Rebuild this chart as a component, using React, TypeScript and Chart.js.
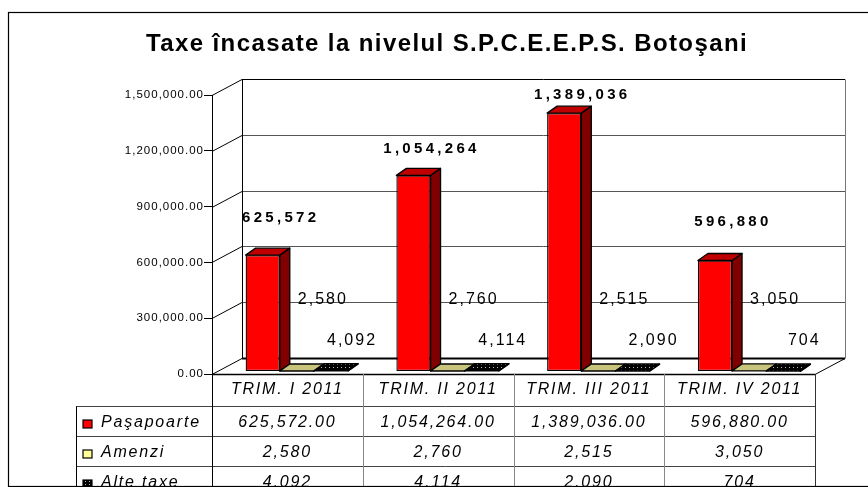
import React, { useEffect, useRef } from "react";
import { Chart, registerables } from "chart.js";

Chart.register(...registerables);

// ---------- data ----------
const TITLE = "Taxe încasate la nivelul S.P.C.E.E.P.S. Botoşani";
const categories = ["TRIM. I 2011", "TRIM. II 2011", "TRIM. III 2011", "TRIM. IV 2011"];
const seriesNames = ["Paşapoarte", "Amenzi", "Alte taxe"];
const pasapoarte = [625572, 1054264, 1389036, 596880];
const amenzi = [2580, 2760, 2515, 3050];
const alteTaxe = [4092, 4114, 2090, 704];
const yMin = 0;
const yMax = 1500000;
const yStep = 300000;
const tableDecimals = [2, 0, 0];

// ---------- style ----------
const W = 868;
const H = 487;
const FONT = '"Liberation Sans", Arial, sans-serif';
const WALL = { dx: 30, dy: -16 };
const BAR_SHIFT = { dx: 9.5, dy: -2.5 };
const BAR_DEPTH = { dx: 10, dy: -7 };
const frontColors = ["#FF0000", "#FFFF99", "#000000"];
const sideColors = ["#800000", "#99994C", "#000000"];
const topColors = ["#C00000", "#C8C47C", "#000000"];

const fmt = (v: number, d: number) =>
  v.toLocaleString("en-US", { minimumFractionDigits: d, maximumFractionDigits: d });

const al = (v: number) => Math.round(v) + 0.5;

function seg(ctx: CanvasRenderingContext2D, x1: number, y1: number, x2: number, y2: number) {
  ctx.beginPath();
  ctx.moveTo(x1, y1);
  ctx.lineTo(x2, y2);
  ctx.stroke();
}

function makeDots(ctx: CanvasRenderingContext2D) {
  const c = document.createElement("canvas");
  c.width = 4;
  c.height = 3;
  const g = c.getContext("2d")!;
  g.fillStyle = "#000";
  g.fillRect(0, 0, 4, 3);
  g.fillStyle = "#b8b8b8";
  g.fillRect(1, 1, 1, 1);
  return ctx.createPattern(c, "repeat")!;
}

export default function App() {
  const ref = useRef<HTMLCanvasElement>(null);

  useEffect(() => {
    const canvas = ref.current!;
    const c2d = canvas.getContext("2d")!;
    const dots = makeDots(c2d);
    const fills = (i: number, arr: string[]) => (i === 2 ? dots : arr[i]);

    const labelStyle = [
      { font: `bold 15px ${FONT}`, spacing: "3.3px", dx: 18, y: (b: number, t: number) => b - (b - t) * 0.86 - 54 },
      { font: `16px ${FONT}`, spacing: "2px", dx: 26, y: (b: number) => b - 71 },
      { font: `16px ${FONT}`, spacing: "2px", dx: 21, y: (b: number) => b - 30.5 },
    ];

    const excel3d = {
      id: "excel3d",
      beforeDraw(chart: any) {
        const { ctx } = chart;
        ctx.save();
        ctx.fillStyle = "#ffffff";
        ctx.fillRect(0, 0, chart.width, chart.height);
        ctx.fillStyle = "#000";
        ctx.font = `bold 24px ${FONT}`;
        ctx.letterSpacing = "1.4px";
        ctx.textAlign = "center";
        ctx.textBaseline = "alphabetic";
        ctx.fillText(TITLE, 447, 50.5);
        ctx.restore();
        ctx.letterSpacing = "1px";
      },
      beforeDatasetsDraw(chart: any) {
        const { ctx, chartArea: a } = chart;
        const ys = chart.scales.y;
        ctx.save();
        ctx.letterSpacing = "0px";
        const bl = a.left + WALL.dx;
        const br = a.right + WALL.dx;
        ys.ticks.forEach((t: any) => {
          const py = ys.getPixelForValue(t.value);
          ctx.strokeStyle = "#000";
          ctx.lineWidth = 1;
          seg(ctx, a.left, al(py), bl, al(py) + WALL.dy);
          const isTop = t.value === ys.max;
          const isZero = t.value === ys.min;
          ctx.strokeStyle = isTop || isZero ? "#000" : "#555";
          ctx.lineWidth = isZero ? 2 : 1;
          seg(ctx, bl, al(py) + WALL.dy, br, al(py) + WALL.dy);
        });
        const topY = al(ys.getPixelForValue(ys.max)) + WALL.dy;
        const botY = al(ys.getPixelForValue(ys.min)) + WALL.dy;
        ctx.strokeStyle = "#000";
        ctx.lineWidth = 1;
        seg(ctx, al(bl), topY, al(bl), botY);
        ctx.strokeStyle = "#777";
        seg(ctx, al(br), topY, al(br), botY);
        // floor front + right edge
        ctx.strokeStyle = "#000";
        ctx.lineWidth = 1.5;
        seg(ctx, a.left, al(a.bottom), a.right, al(a.bottom));
        ctx.lineWidth = 1;
        seg(ctx, a.right, al(a.bottom), br, botY);
        ctx.restore();
        ctx.save();
        ctx.translate(BAR_SHIFT.dx, BAR_SHIFT.dy);
      },
      afterDatasetsDraw(chart: any) {
        const { ctx } = chart;
        ctx.restore();
        ctx.save();
        ctx.letterSpacing = "0px";
        ctx.lineJoin = "round";
        const metas = [0, 1, 2].map((d) => chart.getDatasetMeta(d));
        for (let i = 0; i < categories.length; i++) {
          for (let d = 0; d < 3; d++) {
            const el = metas[d].data[i];
            const x0 = el.x - el.width / 2 + BAR_SHIFT.dx;
            const x1 = el.x + el.width / 2 + BAR_SHIFT.dx;
            const yt = Math.min(el.y, el.base) + BAR_SHIFT.dy;
            const yb = Math.max(el.y, el.base) + BAR_SHIFT.dy;
            ctx.strokeStyle = "#000";
            ctx.lineWidth = 1.3;
            // side face
            ctx.beginPath();
            ctx.moveTo(x1, yt);
            ctx.lineTo(x1 + BAR_DEPTH.dx, yt + BAR_DEPTH.dy);
            ctx.lineTo(x1 + BAR_DEPTH.dx, yb + BAR_DEPTH.dy);
            ctx.lineTo(x1, yb);
            ctx.closePath();
            ctx.fillStyle = fills(d, sideColors);
            ctx.fill();
            ctx.stroke();
            // top face
            ctx.beginPath();
            ctx.moveTo(x0, yt);
            ctx.lineTo(x1, yt);
            ctx.lineTo(x1 + BAR_DEPTH.dx, yt + BAR_DEPTH.dy);
            ctx.lineTo(x0 + BAR_DEPTH.dx, yt + BAR_DEPTH.dy);
            ctx.closePath();
            ctx.fillStyle = fills(d, topColors);
            ctx.fill();
            ctx.stroke();
          }
        }
        // data labels
        ctx.fillStyle = "#000";
        ctx.textAlign = "center";
        ctx.textBaseline = "middle";
        const series = [pasapoarte, amenzi, alteTaxe];
        for (let d = 0; d < 3; d++) {
          const st = labelStyle[d];
          ctx.font = st.font;
          ctx.letterSpacing = st.spacing;
          metas[d].data.forEach((el: any, i: number) => {
            const base = el.base + BAR_SHIFT.dy;
            const top = el.y + BAR_SHIFT.dy;
            const cx = el.x + BAR_SHIFT.dx + st.dx;
            ctx.fillText(fmt(series[d][i], 0), cx, st.y(base, top));
          });
        }
        ctx.restore();
      },
      afterDraw(chart: any) {
        const { ctx, chartArea: a } = chart;
        const xs = chart.scales.x;
        const series = [pasapoarte, amenzi, alteTaxe];
        ctx.save();
        const legendLeft = 76;
        const headTop = a.bottom;
        const rowTops = [406.5, 436.5, 466.5];
        const bounds = categories.map((_, i) => [xs.getPixelForValue(i - 0.5), xs.getPixelForValue(i + 0.5)]);
        // lines
        ctx.lineWidth = 1;
        ctx.strokeStyle = "#444";
        rowTops.forEach((rt) => seg(ctx, legendLeft, rt, al(a.right), rt));
        ctx.strokeStyle = "#888";
        bounds.slice(0, -1).forEach((b) => seg(ctx, al(b[1]), headTop, al(b[1]), H));
        ctx.strokeStyle = "#000";
        seg(ctx, al(a.left), headTop, al(a.left), H);
        seg(ctx, al(legendLeft), rowTops[0], al(legendLeft), H);
        ctx.strokeStyle = "#333";
        seg(ctx, al(a.right), headTop, al(a.right), H);
        // header text
        ctx.fillStyle = "#000";
        ctx.font = `italic 16px ${FONT}`;
        ctx.letterSpacing = "1.8px";
        ctx.textAlign = "center";
        ctx.textBaseline = "alphabetic";
        categories.forEach((c, i) => {
          ctx.fillText(c, (bounds[i][0] + bounds[i][1]) / 2, headTop + 19.5);
        });
        // rows
        for (let d = 0; d < 3; d++) {
          const rt = rowTops[d];
          const baseline = rt + 20.5;
          ctx.textAlign = "center";
          series[d].forEach((v, i) => {
            ctx.fillText(fmt(v, tableDecimals[d]), (bounds[i][0] + bounds[i][1]) / 2, baseline);
          });
          // legend key
          const ky = rt + 13.5;
          ctx.fillStyle = d === 2 ? dots : frontColors[d];
          ctx.fillRect(83, ky, 9, 8);
          ctx.strokeStyle = "#000";
          ctx.lineWidth = 1.2;
          ctx.strokeRect(83, ky, 9, 8);
          ctx.fillStyle = "#000";
          ctx.textAlign = "left";
          ctx.fillText(seriesNames[d], 101, baseline);
        }
        // outer frame
        ctx.letterSpacing = "0px";
        ctx.strokeStyle = "#000";
        ctx.lineWidth = 1.2;
        ctx.strokeRect(8.5, 12.5, 900, 474);
        ctx.restore();
      },
    };

    const chart = new Chart(canvas, {
      type: "bar",
      data: {
        labels: categories,
        datasets: [
          { label: seriesNames[0], data: pasapoarte, backgroundColor: frontColors[0], borderColor: "#000", borderWidth: 1.3, borderSkipped: false },
          { label: seriesNames[1], data: amenzi, backgroundColor: frontColors[1], borderColor: "#000", borderWidth: 1.3, borderSkipped: false },
          { label: seriesNames[2], data: alteTaxe, backgroundColor: dots as any, borderColor: "#000", borderWidth: 1.3, borderSkipped: false },
        ],
      },
      options: {
        animation: false,
        responsive: false,
        maintainAspectRatio: false,
        devicePixelRatio: 1,
        layout: { padding: { left: 0, top: 95, right: 53, bottom: 113 } },
        datasets: { bar: { categoryPercentage: 0.68, barPercentage: 1 } },
        plugins: { legend: { display: false }, title: { display: false }, tooltip: { enabled: false } },
        scales: {
          x: { display: false },
          y: {
            min: yMin,
            max: yMax,
            afterFit: (s: any) => {
              s.width = 212;
            },
            ticks: {
              stepSize: yStep,
              color: "#000",
              padding: 0,
              font: { family: FONT, size: 11.5 },
              callback: (v: any) => fmt(Number(v), 2),
            },
            grid: { drawOnChartArea: false, drawTicks: true, tickLength: 8, color: "#000" },
            border: { display: true, color: "#000", width: 1 },
          },
        },
      } as any,
      plugins: [excel3d as any],
    });
    return () => chart.destroy();
  }, []);

  return (
    <div style={{ position: "absolute", left: 0, top: 0, width: W, height: H }}>
      <canvas ref={ref} width={W} height={H} style={{ display: "block", width: W, height: H }} />
    </div>
  );
}
